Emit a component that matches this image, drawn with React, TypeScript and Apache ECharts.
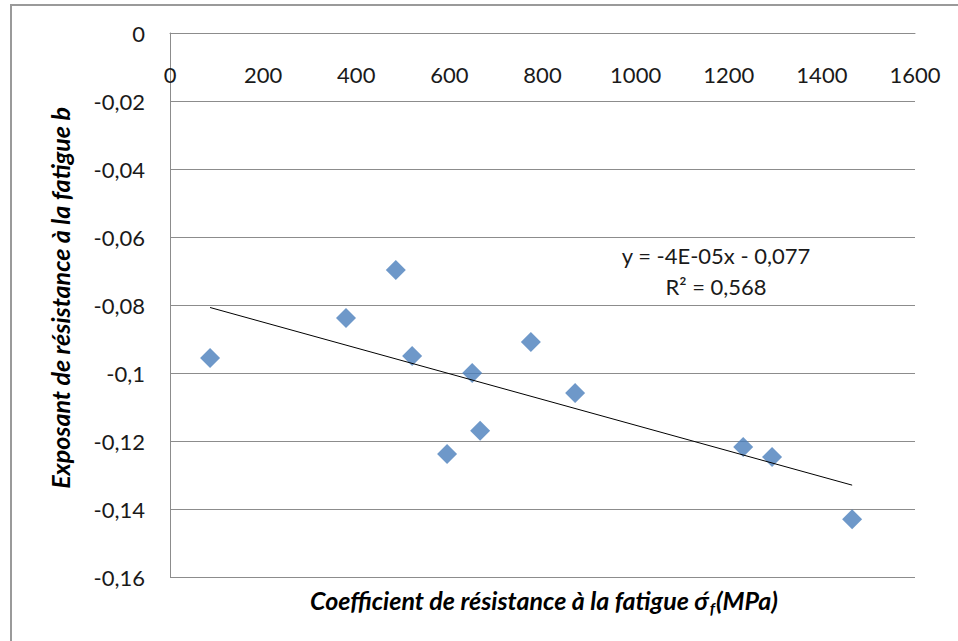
import React, { useEffect, useRef } from "react";
import * as echarts from "echarts";

// Data
const sigmaF: number[] = [86, 378, 485, 520, 595, 649, 666, 775, 870, 1231, 1293, 1465];
const exponentB: number[] = [-0.0956, -0.0838, -0.0697, -0.095, -0.1238, -0.1, -0.117, -0.0909, -0.1059, -0.1218, -0.1247, -0.143];
const xTicks = { min: 0, max: 1600, interval: 200 };
const yTicks = { min: -0.16, max: 0, interval: 0.02 };
const equationLines: string[] = ["y = -4E-05x - 0,077", "R² = 0,568"];
const xTitle = "Coefficient de résistance à la fatigue σ́";
const yTitle = "Exposant de résistance à la fatigue b";

function regression(xs: number[], ys: number[]) {
  const n = xs.length;
  const mx = xs.reduce((a, b) => a + b, 0) / n;
  const my = ys.reduce((a, b) => a + b, 0) / n;
  let sxy = 0, sxx = 0;
  for (let i = 0; i < n; i++) {
    sxy += (xs[i] - mx) * (ys[i] - my);
    sxx += (xs[i] - mx) ** 2;
  }
  const slope = sxy / sxx;
  return { slope, intercept: my - slope * mx };
}

const FONT = "Lato, 'Open Sans', sans-serif";

export default function App() {
  const ref = useRef<HTMLDivElement>(null);
  useEffect(() => {
    if (!ref.current) return;
    const chart = echarts.init(ref.current, null, { renderer: "svg" });
    const { slope, intercept } = regression(sigmaF, exponentB);
    const xMin = Math.min(...sigmaF);
    const xMax = Math.max(...sigmaF);
    const trend = [
      [xMin, intercept + slope * xMin],
      [xMax, intercept + slope * xMax],
    ];
    const fmt = (v: number) => {
      const r = Number(v.toFixed(2));
      if (r === 0) return "0";
      return String(r).replace(".", ",");
    };
    chart.setOption({
      animation: false,
      backgroundColor: "#ffffff",
      grid: { left: 170, top: 33, right: 43, bottom: 64, containLabel: false },
      xAxis: {
        type: "value",
        position: "top",
        min: xTicks.min,
        max: xTicks.max,
        interval: xTicks.interval,
        axisLine: { show: true, onZero: false, lineStyle: { color: "#8c8c8c", width: 1 } },
        axisTick: { show: false },
        splitLine: { show: false },
        axisLabel: {
          inside: true,
          margin: 30,
          color: "#1a1a1a",
          fontSize: 22,
          fontFamily: FONT,
          formatter: (v: number) => String(Math.round(v)),
        },
      },
      yAxis: {
        type: "value",
        min: yTicks.min,
        max: yTicks.max,
        interval: yTicks.interval,
        axisLine: { show: true, onZero: false, lineStyle: { color: "#8c8c8c", width: 1 } },
        axisTick: { show: false },
        splitLine: { show: true, lineStyle: { color: "#8c8c8c", width: 1 } },
        axisLabel: {
          margin: 25,
          color: "#1a1a1a",
          fontSize: 22,
          fontFamily: FONT,
          formatter: fmt,
        },
      },
      series: [
        {
          type: "scatter",
          data: sigmaF.map((x, i) => [x, exponentB[i]]),
          symbol: "diamond",
          symbolSize: 20,
          itemStyle: { color: "#4a7ebb" },
          z: 3,
        },
        {
          type: "line",
          data: trend,
          showSymbol: false,
          symbol: "none",
          lineStyle: { color: "#000000", width: 1 },
          z: 4,
        },
      ],
      graphic: [
        {
          type: "rect",
          shape: { x: 11, y: 5, width: 960, height: 660 },
          style: { fill: "none", stroke: "#9a9a9a", lineWidth: 2 },
          silent: true,
        },
        {
          type: "text",
          x: 716,
          y: 255,
          style: {
            text: equationLines[0],
            font: `22px ${FONT}`,
            fill: "#1a1a1a",
            textAlign: "center",
            textVerticalAlign: "middle",
          },
        },
        {
          type: "text",
          x: 716,
          y: 286,
          style: {
            text: equationLines[1],
            font: `22px ${FONT}`,
            fill: "#1a1a1a",
            textAlign: "center",
            textVerticalAlign: "middle",
          },
        },
        {
          type: "text",
          x: 60,
          y: 298,
          rotation: Math.PI / 2,
          style: {
            text: yTitle,
            font: `italic bold 25px ${FONT}`,
            fill: "#000000",
            textAlign: "center",
            textVerticalAlign: "middle",
          },
        },
        {
          type: "text",
          x: 544,
          y: 600,
          style: {
            text: `{a|${xTitle}}{s|f}{a|(MPa)}`,
            textAlign: "center",
            textVerticalAlign: "middle",
            rich: {
              a: { font: `italic bold 25px ${FONT}`, fill: "#000000", color: "#000000" },
              s: { font: `italic bold 16px ${FONT}`, fill: "#000000", color: "#000000", padding: [14, 1, 0, 1] },
            },
          },
        },
      ],
    });
    return () => chart.dispose();
  }, []);
  return (
    <div
      ref={ref}
      style={{ position: "absolute", left: 0, top: 0, width: 958, height: 641 }}
    />
  );
}
